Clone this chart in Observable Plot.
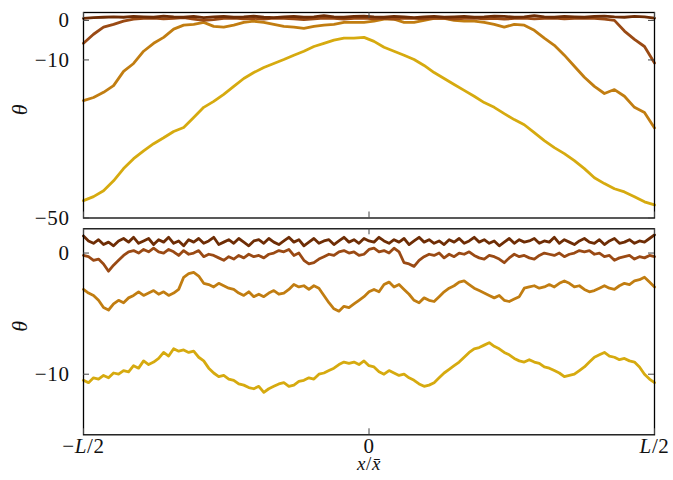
<!DOCTYPE html>
<html>
<head>
<meta charset="utf-8">
<script src="https://cdn.jsdelivr.net/npm/d3@7"></script>
<script src="https://cdn.jsdelivr.net/npm/@observablehq/plot@0.6"></script>
<style>
  body { margin: 0; background: #fff; }
  #chart { width: 673px; height: 480px; }
  #chart svg { display: block; }
</style>
</head>
<body>
<div id="chart"></div>
<script>
// Profiles theta(x) sampled evenly across the box, from -L/2 to L/2.
// Upper panel: four profiles relaxing towards zero.
const topDark = [0.5,0.7,0.8,0.9,0.8,1.0,0.9,0.8,1.1,0.9,0.8,1.0,0.7,0.9,1.0,0.8,0.9,1.1,0.8,0.7,0.9,1.0,0.8,0.9,1.2,0.9,0.8,1.0,1.1,0.9,0.8,1.0,0.9,0.7,0.9,1.0,0.8,0.9,1.0,0.8,0.9,1.1,1.0,0.8,0.9,1.2,0.9,0.8,1.0,0.9,0.8,1.0,1.1,0.9,0.8,1.0,0.9,0.6];
const topBrown = [-5.8,-3.5,-1.7,-1.0,-0.2,0.3,0.5,0.6,0.4,0.5,0.7,0.3,0.0,0.2,0.5,0.6,0.4,0.5,0.3,0.6,0.5,0.4,0.2,0.4,0.6,0.5,0.3,0.5,0.6,0.4,0.5,0.3,0.6,0.5,0.4,0.6,0.5,0.3,0.5,0.6,0.4,0.5,0.3,0.5,0.6,0.4,0.5,0.6,0.4,0.5,0.6,0.5,0.3,0.0,-2.7,-4.8,-6.6,-10.8];
const topOrange = [-20.3,-19.5,-18.2,-16.5,-12.9,-10.9,-7.8,-5.8,-4.3,-2.2,-1.2,-1.0,-0.5,-1.5,-1.7,-1.2,-0.5,-0.2,-0.5,-1.0,-1.5,-1.7,-2.0,-1.5,-1.2,-1.0,-0.5,-0.5,-0.5,-0.2,0.3,0.3,-0.5,-0.5,0.0,0.5,0.5,0.0,-0.2,-0.2,-0.5,-1.0,-1.7,-1.0,-1.2,-2.5,-4.5,-6.3,-8.8,-11.6,-14.4,-16.7,-18.5,-17.5,-19.2,-22.0,-23.3,-27.2];
const topGold = [-45.6,-44.6,-43.1,-40.6,-37.5,-35.0,-33.0,-31.2,-29.7,-28.1,-27.1,-24.6,-22.0,-20.5,-18.7,-16.7,-14.7,-13.2,-11.9,-10.9,-9.9,-8.8,-7.8,-6.6,-5.8,-5.0,-4.5,-4.5,-4.3,-5.3,-6.8,-7.8,-8.8,-9.9,-11.4,-13.2,-14.7,-16.2,-17.7,-19.2,-20.8,-22.0,-23.6,-25.1,-26.4,-28.4,-30.4,-32.2,-33.7,-35.5,-37.5,-39.8,-41.3,-42.6,-43.4,-44.6,-45.9,-46.7];

// Lower panel: four fluctuating profiles at fixed offsets.
const botDark = [1.4,1.0,0.8,1.1,0.7,0.9,0.6,1.0,1.2,0.9, 1.3,0.8,1.0,1.2,0.7,1.1,0.9,1.3,0.8,1.0, 0.6,1.1,0.9,1.2,0.8,1.0,1.3,0.7,0.9,1.1, 0.8,1.2,0.9,0.6,1.0,1.1,0.8,1.2,0.9,0.7, 1.0,1.3,0.9,1.1,0.6,0.9,1.2,0.8,1.0,1.1, 0.7,1.0,1.3,0.9,1.1,0.8,1.2,1.0,0.9,1.3, 1.0,0.8,1.1,0.9,1.2,0.7,1.0,1.3,0.9,1.1, 0.8,1.0,0.7,1.1,0.9,1.2,0.8,1.0,1.3,0.9, 1.1,0.8,1.0,0.6,0.9,1.2,0.8,1.1,0.9,1.0, 1.2,0.8,1.0,0.9,1.3,0.8,1.1,0.9,0.7,1.0, 1.2,0.9,0.8,1.1,0.7,1.0,1.2,0.8,0.9,1.1, 0.8,1.0,0.9,1.2,1.5];
const botBrown = [-0.2,-0.3,-0.6,-0.5,-0.9,-1.5,-1.0,-0.6,-0.2,0.1, 0.2,0.0,0.3,0.1,0.4,0.1,0.0,0.3,0.1,-0.2, 0.2,-0.1,0.0,0.2,-0.3,-0.1,-0.2,-0.4,-0.6,-0.3, -0.5,-0.2,-0.4,-0.1,-0.3,-0.2,-0.4,-0.1,0.0,0.2, 0.1,0.3,-0.2,0.0,-0.6,-0.9,-0.8,-0.5,-0.3,-0.1, -0.2,0.1,0.2,0.0,0.1,-0.2,-0.1,0.3,0.4,0.1, 0.2,0.0,0.4,0.1,-0.8,-0.9,-1.1,-0.6,-0.3,-0.1, -0.2,0.0,-0.4,-0.1,-0.3,0.0,-0.1,0.1,-0.2,-0.4, -0.5,-0.2,-0.3,-0.5,-0.8,-0.4,-0.1,-0.3,-0.2,-0.4, -0.5,-0.2,0.0,-0.1,-0.2,0.0,-0.3,-0.1,0.0,0.2, 0.1,0.2,-0.1,0.0,-0.3,-0.2,-0.6,-0.4,-0.3,-0.2, -0.5,-0.3,-0.4,-0.2,-0.3];
const botOrange = [-3.0,-3.3,-3.5,-3.9,-4.5,-4.7,-4.2,-3.9,-4.1,-3.7, -3.5,-3.2,-3.5,-3.3,-3.1,-3.4,-3.2,-3.5,-3.3,-3.0, -2.0,-1.7,-1.6,-1.9,-2.5,-2.6,-2.8,-2.5,-2.7,-2.9, -3.0,-3.3,-3.5,-3.2,-3.6,-3.4,-3.6,-3.3,-3.1,-3.4, -3.3,-3.0,-2.6,-2.8,-2.7,-3.0,-2.7,-2.9,-3.5,-4.1, -4.6,-4.8,-4.4,-4.5,-4.2,-3.9,-3.6,-3.2,-3.0,-3.2, -2.6,-2.4,-2.8,-2.6,-3.0,-3.4,-3.9,-4.1,-3.7,-3.9, -4.0,-3.6,-3.2,-2.9,-2.7,-2.4,-2.3,-2.6,-2.9,-3.1, -3.3,-3.5,-3.7,-3.5,-3.9,-4.0,-3.8,-3.6,-2.9,-2.8, -2.7,-2.9,-2.8,-2.6,-2.8,-2.5,-2.3,-2.5,-2.8,-2.7, -3.0,-3.2,-3.1,-2.9,-2.7,-2.9,-3.0,-2.7,-2.5,-2.6, -2.3,-2.2,-2.0,-2.4,-2.8];
const botGold = [-10.5,-10.7,-10.3,-10.4,-10.1,-10.3,-9.9,-10.0,-9.7,-9.8, -9.3,-9.5,-8.9,-9.2,-9.0,-8.7,-8.2,-8.5,-7.9,-8.1, -8.0,-8.2,-8.1,-8.6,-8.9,-9.5,-9.9,-10.2,-10.1,-10.4, -10.5,-10.8,-10.9,-11.1,-11.2,-11.0,-11.5,-11.2,-11.0,-10.8, -10.7,-11.0,-10.9,-10.6,-10.5,-10.3,-10.4,-10.0,-9.9,-9.7, -9.5,-9.2,-9.0,-9.1,-9.0,-9.2,-8.9,-9.3,-9.4,-9.8, -10.0,-9.7,-9.9,-10.1,-10.0,-10.3,-10.5,-10.8,-11.0,-10.9, -10.7,-10.3,-9.9,-9.6,-9.3,-9.0,-8.6,-8.2,-7.9,-7.8, -7.6,-7.4,-7.7,-7.9,-8.2,-8.4,-8.7,-8.9,-9.0,-8.8, -9.0,-9.1,-9.4,-9.5,-9.7,-9.9,-10.2,-10.1,-10.0,-9.7, -9.4,-9.0,-8.6,-8.4,-8.2,-8.5,-8.6,-8.8,-8.7,-8.9, -9.0,-9.4,-10.0,-10.4,-10.7];

// Series colours, gold (drawn first) to dark brown (drawn last)
const seriesColors = ["#d6aa0f", "#c17d11", "#9a4a14", "#6e2d05"];

// Axes
const xTicks = [-0.5, 0, 0.5];
const xTickLabels = ["−L/2", "0", "L/2"];
const xLabel = "x/x̄";
const yLabel = "θ";
const topYTicks = [0, -10, -50];
const botYTicks = [0, -10];
const topYDomain = [-50, 2];
const botYDomain = [-15, 2];

const W = 673, ML = 83, MR = 19, TICK = 6;
const fmt = d => (d < 0 ? "−" + Math.abs(d) : String(d));

function panel({series, yDomain, yTicks, height, marginTop, marginBottom, withX}) {
  const frameW = W - ML - MR;
  const frameH = height - marginTop - marginBottom;
  const marks = [];
  series.forEach((vals, s) => {
    marks.push(Plot.line(vals, {
      x: (d, i) => -0.5 + i / (vals.length - 1),
      y: d => d,
      stroke: seriesColors[s],
      strokeWidth: 2.8,
      strokeLinejoin: "round",
      strokeLinecap: "round"
    }));
  });
  marks.push(
    Plot.frame({stroke: "#000", strokeWidth: 1.3}),
    // inward ticks on all four sides
    Plot.tickY(yTicks, {y: d => d, insetRight: frameW - TICK, stroke: "#444"}),
    Plot.tickY(yTicks, {y: d => d, insetLeft: frameW - TICK, stroke: "#444"}),
    Plot.tickX(xTicks, {x: d => d, insetBottom: frameH - TICK, stroke: "#444"}),
    Plot.tickX(xTicks, {x: d => d, insetTop: frameH - TICK, stroke: "#444"}),
    Plot.text(yTicks, {y: d => d, text: fmt, frameAnchor: "left", dx: -14, textAnchor: "end", fill: "#111"}),
    Plot.text([yLabel], {text: d => d, frameAnchor: "left", dx: -64, rotate: -90, fontStyle: "italic", fontSize: 22, fill: "#111"})
  );
  if (withX) {
    marks.push(
      Plot.text(xTicks, {x: d => d, text: (d, i) => xTickLabels[i], frameAnchor: "bottom", dy: 18.5, fill: "#111"}),
      Plot.text([xLabel], {text: d => d, frameAnchor: "bottom", dy: 35, fontSize: 19, fill: "#111"})
    );
  }
  return Plot.plot({
    width: W,
    height,
    marginLeft: ML,
    marginRight: MR,
    marginTop,
    marginBottom,
    x: {domain: [-0.5, 0.5], axis: null},
    y: {domain: yDomain, axis: null},
    style: {
      fontFamily: "'Liberation Serif', serif",
      fontSize: "21px",
      letterSpacing: "0.6px",
      background: "transparent",
      overflow: "visible"
    },
    marks
  });
}

// italic for Latin letters, as in math typesetting
function mathify(svg, strings) {
  d3.select(svg).selectAll("text").each(function () {
    const s = this.textContent;
    if (!strings.includes(s)) return;
    const parts = s.split(/([A-Za-z]\u0304?)/).filter(p => p);
    this.textContent = "";
    for (const p of parts) {
      const t = d3.select(this).append("tspan").text(p);
      if (/^[A-Za-z]/.test(p)) t.attr("font-style", "italic");
    }
  });
}

const topPlot = panel({
  series: [topGold, topOrange, topBrown, topDark],
  yDomain: topYDomain, yTicks: topYTicks,
  height: 222, marginTop: 12, marginBottom: 4.5, withX: false
});
const botPlot = panel({
  series: [botGold, botOrange, botBrown, botDark],
  yDomain: botYDomain, yTicks: botYTicks,
  height: 258, marginTop: 6.3, marginBottom: 45.7, withX: true
});
mathify(botPlot, [...xTickLabels, xLabel]);

const chart = document.getElementById("chart");
chart.append(topPlot, botPlot);
</script>
</body>
</html>
